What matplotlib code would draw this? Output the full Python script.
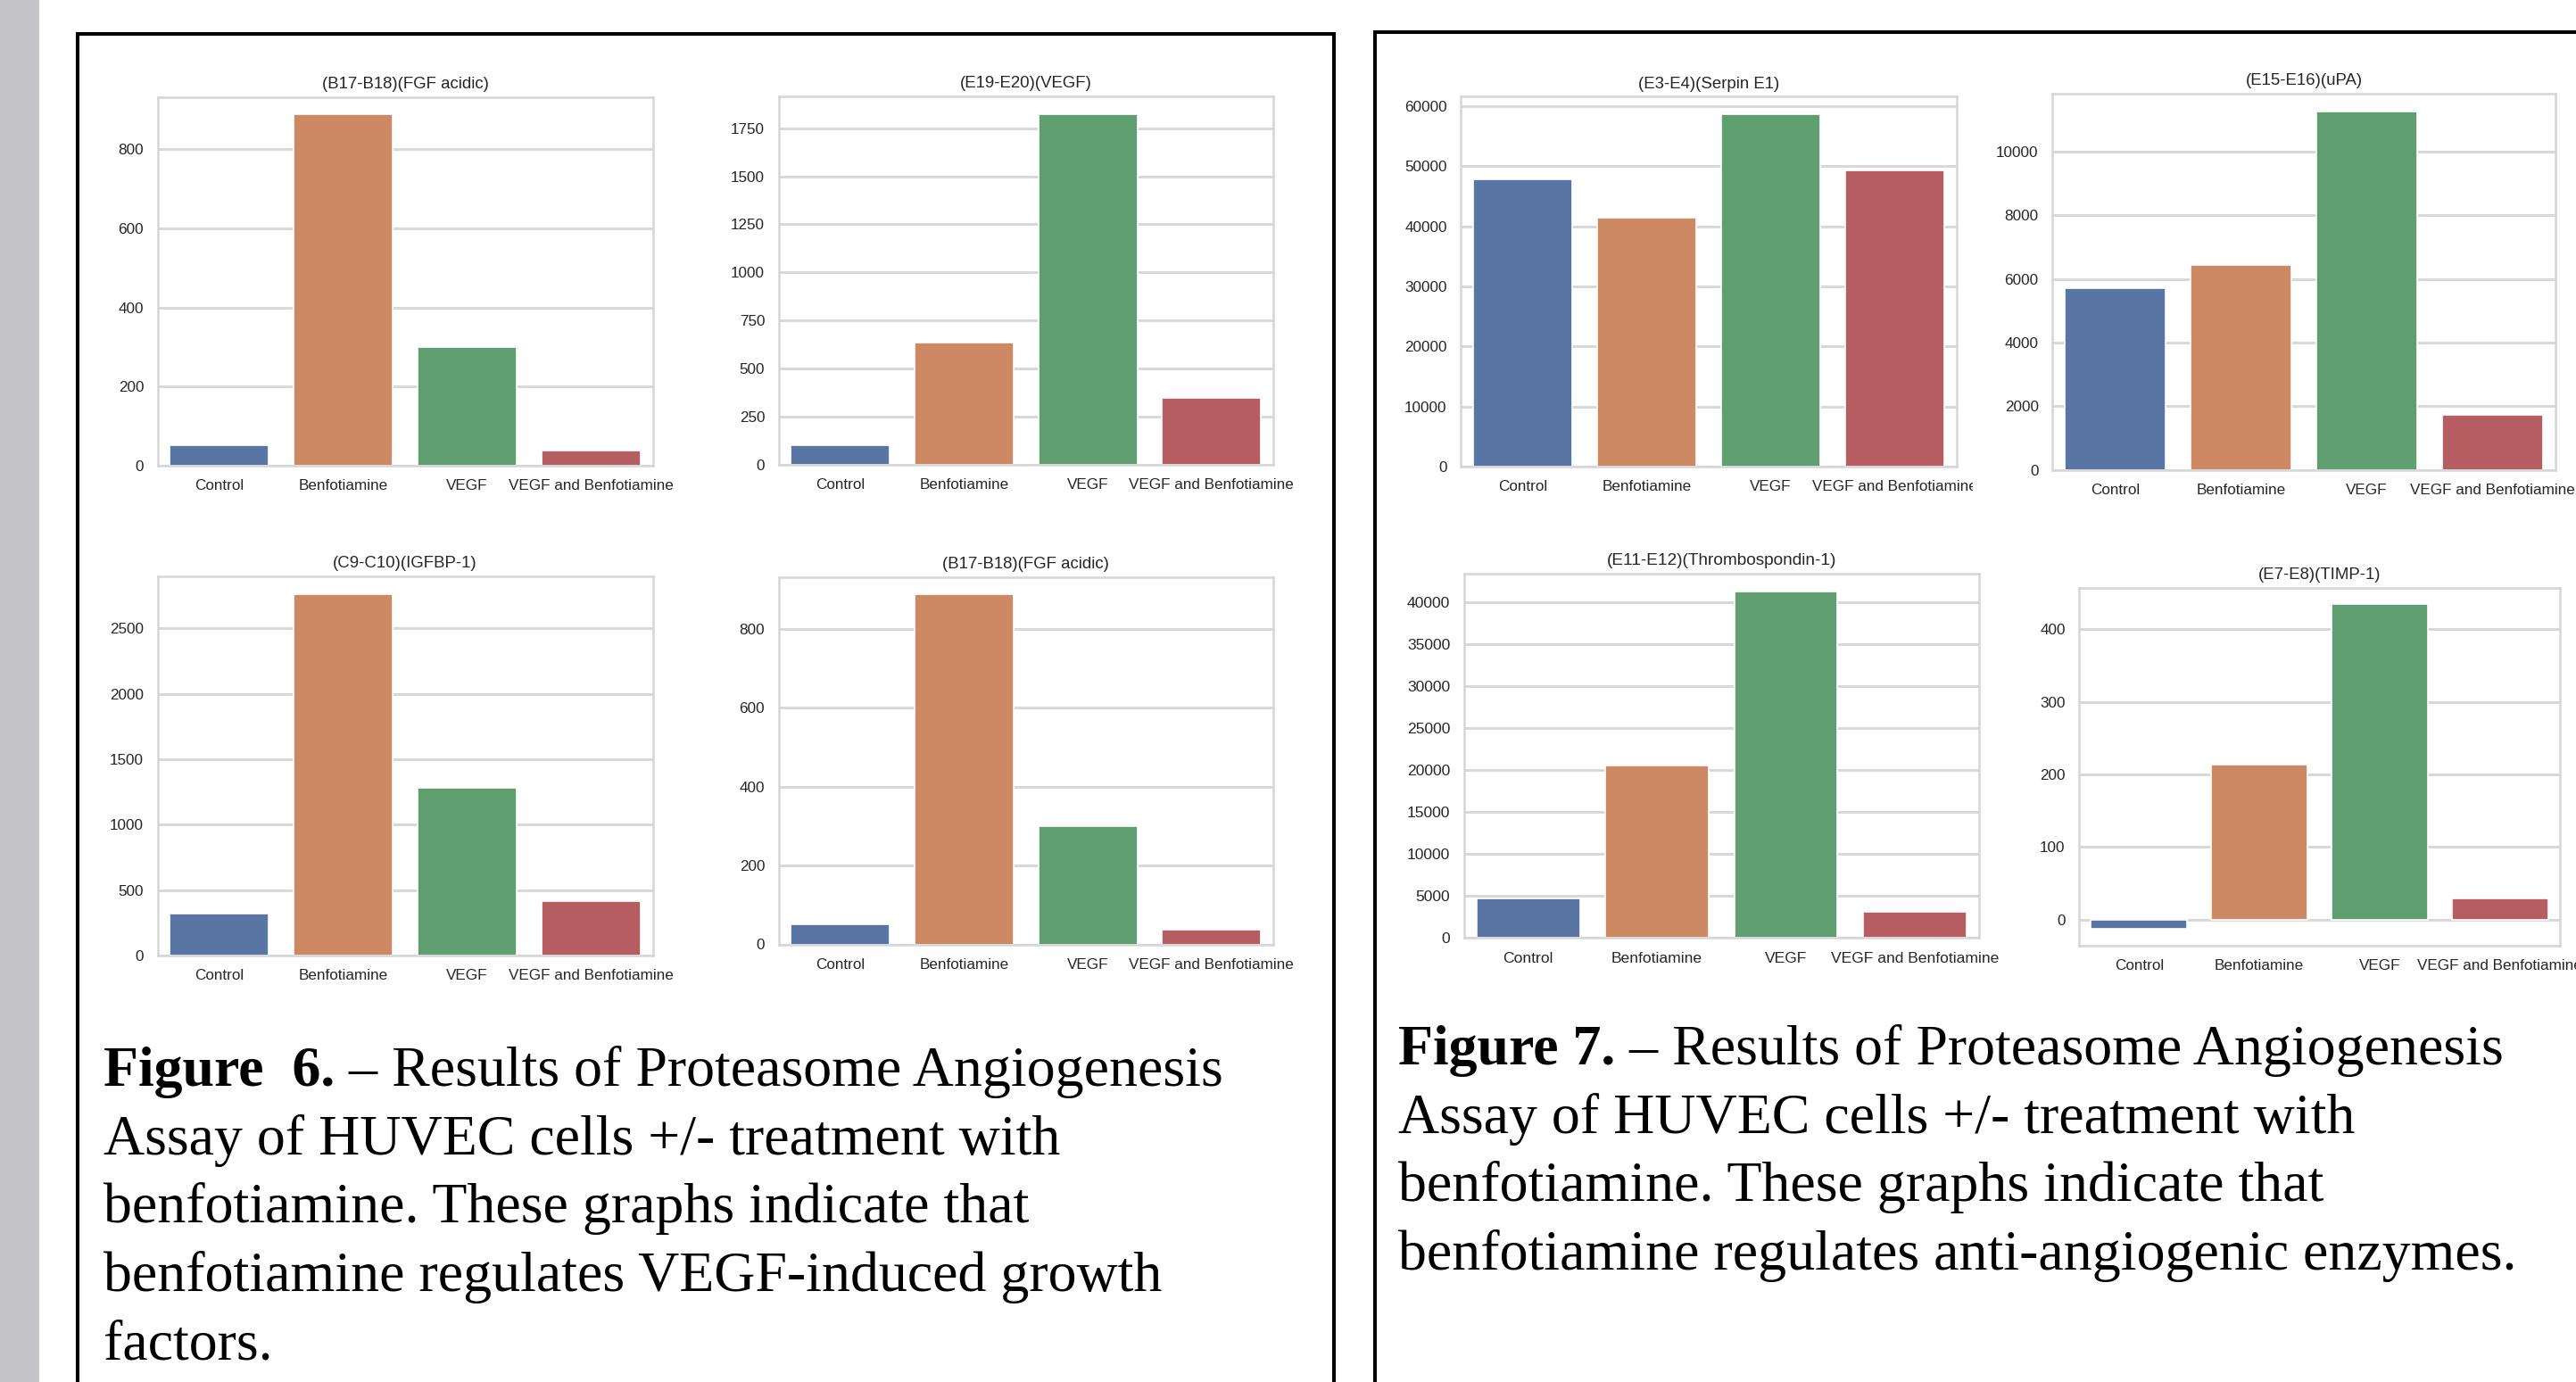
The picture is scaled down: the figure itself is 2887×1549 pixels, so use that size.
import matplotlib
matplotlib.use("Agg")
import matplotlib.pyplot as plt
from matplotlib.lines import Line2D
from matplotlib.patches import Rectangle
from matplotlib.ticker import MultipleLocator
from matplotlib.transforms import Bbox

W, H, DPI = 2887, 1549, 100

groups = ['Control', 'Benfotiamine', 'VEGF', 'VEGF and Benfotiamine']

# protein array readings per treatment
fgf_acidic = [52, 888, 300, 38]
vegf = [101, 633, 1824, 347]
igfbp1 = [322, 2760, 1282, 415]
serpin_e1 = [47860, 41520, 58690, 49390]
upa = [5710, 6450, 11270, 1730]
thrombospondin1 = [4680, 20560, 41300, 3150]
timp1 = [-13, 213, 435, 29]

caption6 = ['Assay of HUVEC cells +/- treatment with',
            'benfotiamine. These graphs indicate that',
            'benfotiamine regulates VEGF-induced growth',
            'factors.']
caption7 = ['Assay of HUVEC cells +/- treatment with',
            'benfotiamine. These graphs indicate that',
            'benfotiamine regulates anti-angiogenic enzymes.']

bar_colors = ['#5975a4', '#cc8963', '#5f9e6e', '#b55d60']
grid_gray = '#d6d6d6'
text_gray = '#262626'

fig = plt.figure(figsize=(W / DPI, H / DPI), dpi=DPI)
fig.patch.set_facecolor('white')


def fx(x):
    return x / W


def fy(y):
    return 1 - y / H


def bar_panel(box, title, values, step, fs=12.3):
    x0, y0, x1, y1 = box
    ax = fig.add_axes([fx(x0), fy(y1), fx(x1) - fx(x0), fy(y0) - fy(y1)])
    ax.bar(range(len(groups)), values, width=0.8, color=bar_colors,
           edgecolor='white', linewidth=1.2, zorder=2)
    ax.set_xlim(-0.5, len(groups) - 0.5)
    ax.yaxis.set_major_locator(MultipleLocator(step))
    ax.set_xticks(range(len(groups)))
    ax.set_xticklabels(groups, family='Liberation Sans', fontsize=fs, color=text_gray)
    for lab in ax.get_yticklabels():
        lab.set_family('Liberation Sans')
    ax.tick_params(axis='y', length=0, pad=11, labelsize=fs, labelcolor=text_gray)
    ax.tick_params(axis='x', length=0, pad=11)
    ax.set_axisbelow(True)
    ax.grid(axis='y', color=grid_gray, linewidth=2)
    ax.grid(axis='x', visible=False)
    for sp in ax.spines.values():
        sp.set_color(grid_gray)
        sp.set_linewidth(1.8)
    ax.set_title(title, family='Liberation Sans', fontsize=fs * 1.09,
                 color=text_gray, pad=7)
    return ax


# figure 6 panels
bar_panel((176.5, 108.7, 731.5, 522), '(B17-B18)(FGF acidic)', fgf_acidic, 200)
bar_panel((872.5, 108, 1427, 521), '(E19-E20)(VEGF)', vegf, 250)
bar_panel((176.5, 646, 731.5, 1071), '(C9-C10)(IGFBP-1)', igfbp1, 500)
bar_panel((872.5, 646.5, 1427, 1058.5), '(B17-B18)(FGF acidic)', fgf_acidic, 200)

# figure 7 panels
ax5 = bar_panel((1637, 108.3, 2192.5, 522.8), '(E3-E4)(Serpin E1)', serpin_e1, 10000)
bar_panel((2300, 104.5, 2864, 526.6), '(E15-E16)(uPA)', upa, 2000)
bar_panel((1640.6, 643.2, 2218, 1051.4), '(E11-E12)(Thrombospondin-1)', thrombospondin1, 5000, fs=12.6)
bar_panel((2330, 658.6, 2869, 1059.6), '(E7-E8)(TIMP-1)', timp1, 100)

# last label of the serpin panel runs under the uPA panel
last = ax5.get_xticklabels()[-1]
last.set_clip_on(True)
last.set_clip_box(Bbox([[0, 0], [2211, H]]))

# grey strip and panel frames
fig.add_artist(Rectangle((0, 0), fx(44), 1, transform=fig.transFigure,
                         facecolor='#c4c4c9', edgecolor='none', zorder=0))
frame_kw = dict(color='black', linewidth=2.9, transform=fig.transFigure,
                solid_capstyle='projecting')
fig.add_artist(Line2D([fx(87), fx(87)], [fy(38), 0], **frame_kw))
fig.add_artist(Line2D([fx(87), fx(1495)], [fy(38), fy(38)], **frame_kw))
fig.add_artist(Line2D([fx(1495), fx(1495)], [fy(38), 0], **frame_kw))
fig.add_artist(Line2D([fx(1541), fx(1541)], [fy(36), 0], **frame_kw))
fig.add_artist(Line2D([fx(1541), 1], [fy(36), fy(36)], **frame_kw))

# captions
cap_kw = dict(family='Liberation Serif', fontsize=46, color='black', va='baseline')
renderer = fig.canvas.get_renderer()


def caption(x, y, label, first, rest, spacing=76.7):
    t = fig.text(fx(x), fy(y), label, fontweight='bold', **cap_kw)
    bb = t.get_window_extent(renderer)
    fig.text(fx(bb.x1), fy(y), first, **cap_kw)
    for i, line in enumerate(rest):
        fig.text(fx(x), fy(y + (i + 1) * spacing), line, **cap_kw)


caption(116, 1217, 'Figure  6.', ' \u2013 Results of Proteasome Angiogenesis', caption6)
caption(1567, 1193, 'Figure 7.', ' \u2013 Results of Proteasome Angiogenesis', caption7)

fig.savefig('out.png', dpi=DPI)
